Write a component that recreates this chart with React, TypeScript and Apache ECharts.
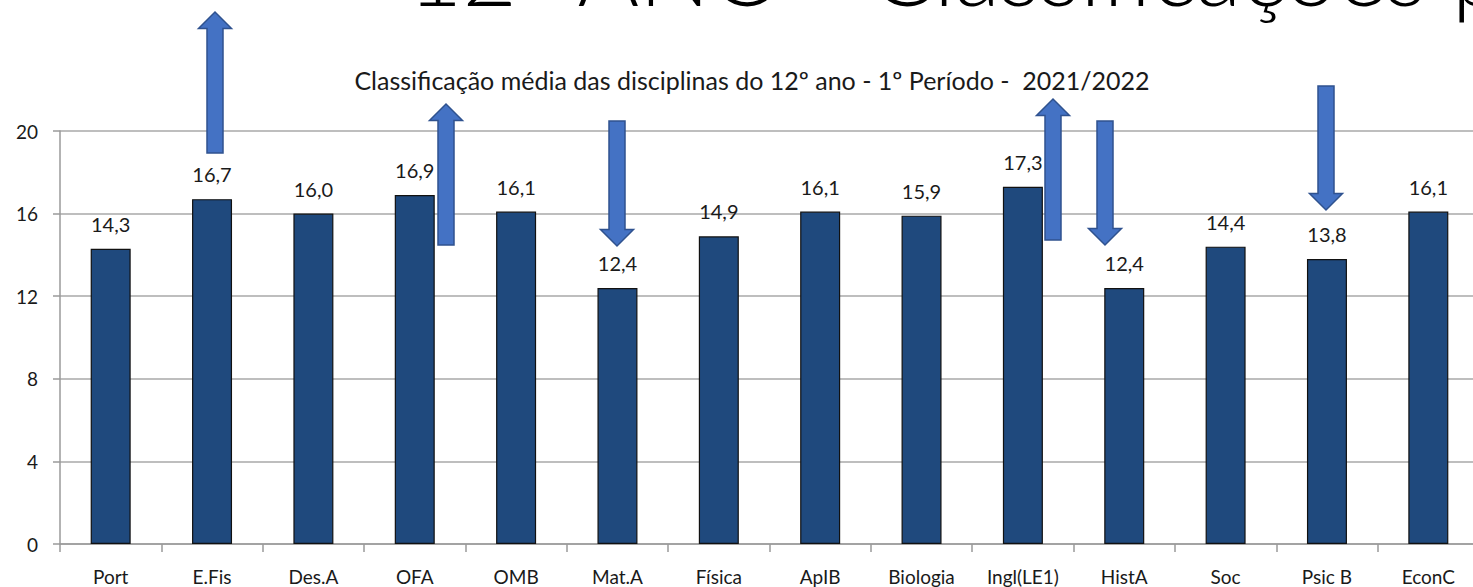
import React, { useEffect, useRef } from "react";
import * as echarts from "echarts";

const categories = ["Port", "E.Fis", "Des.A", "OFA", "OMB", "Mat.A", "Física", "ApIB", "Biologia", "Ingl(LE1)", "HistA", "Soc", "Psic B", "EconC"];
const values = [14.3, 16.7, 16.0, 16.9, 16.1, 12.4, 14.9, 16.1, 15.9, 17.3, 12.4, 14.4, 13.8, 16.1];
const yTicks = [0, 4, 8, 12, 16, 20];

const bigTitle = "12º ANO - Classificações p";
const chartTitle = "Classificação média das disciplinas do 12º ano - 1º Período -  2021/2022";

// Annotation arrows: [centerX, tailY, tipY] in pixels (decorative overlay)
const arrows: Array<[number, number, number]> = [
  [215, 153, 12],
  [446, 245, 104],
  [617, 121, 246],
  [1053, 240, 99],
  [1105, 121, 245],
  [1326, 86, 210],
];

function arrowPoints(cx: number, tail: number, tip: number): number[][] {
  const dir = tip < tail ? -1 : 1;
  const shaftHalf = 8;
  const headHalf = 16.5;
  const headLen = 16.5;
  const base = tip - dir * headLen;
  return [
    [cx - shaftHalf, tail],
    [cx - shaftHalf, base],
    [cx - headHalf, base],
    [cx, tip],
    [cx + headHalf, base],
    [cx + shaftHalf, base],
    [cx + shaftHalf, tail],
  ];
}

export default function App() {
  const ref = useRef<HTMLDivElement>(null);
  useEffect(() => {
    if (!ref.current) return;
    const chart = echarts.init(ref.current, undefined, { renderer: "svg" });
    const font = "Lato, 'Liberation Sans', sans-serif";
    chart.setOption({
      animation: false,
      backgroundColor: "#ffffff",
      grid: { left: 60, right: 1, top: 131, bottom: 43, containLabel: false },
      xAxis: {
        type: "category",
        data: categories,
        boundaryGap: true,
        axisLine: { lineStyle: { color: "#9a9a9a", width: 1.5 } },
        axisTick: { show: true, alignWithLabel: false, length: 8, lineStyle: { color: "#9a9a9a", width: 1.5 } },
        axisLabel: { color: "#1a1a1a", fontSize: 19, fontFamily: font, margin: 23, interval: 0 },
      },
      yAxis: {
        type: "value",
        min: 0,
        max: 20,
        interval: 4,
        axisLine: { show: true, lineStyle: { color: "#9a9a9a", width: 1.5 } },
        axisTick: { show: true, length: 7, lineStyle: { color: "#9a9a9a", width: 1.5 } },
        axisLabel: {
          color: "#1a1a1a", fontSize: 19, fontFamily: font, margin: 22,
          formatter: (v: number) => (yTicks.includes(v) ? String(v) : ""),
        },
        splitLine: { show: true, lineStyle: { color: "#a8a8a8", width: 1.5 } },
      },
      series: [
        {
          type: "bar",
          data: values,
          barWidth: 40,
          itemStyle: { color: "#1f497d", borderColor: "#111111", borderWidth: 1.2 },
          label: {
            show: true,
            position: "top",
            distance: 15,
            color: "#1a1a1a",
            fontSize: 20,
            fontFamily: font,
            formatter: (p: any) => Number(p.value).toFixed(1).replace(".", ","),
          },
        },
      ],
      graphic: [
        {
          type: "text",
          x: 752,
          y: 80,
          style: { text: chartTitle, fontSize: 25, fontFamily: font, fill: "#1a1a1a", textAlign: "center", textVerticalAlign: "middle" },
        },
        {
          type: "text",
          x: 408,
          y: 16,
          style: { text: bigTitle, fontSize: 94, fontWeight: 300, fontFamily: font, fill: "#000000", textVerticalAlign: "bottom" },
        },
        ...arrows.map(([cx, tail, tip]) => ({
          type: "polygon",
          shape: { points: arrowPoints(cx, tail, tip) },
          style: { fill: "#4472c4", stroke: "#2f528f", lineWidth: 1.5 },
          z: 100,
        })),
      ],
    });
    return () => chart.dispose();
  }, []);
  return <div ref={ref} style={{ position: "fixed", left: 0, top: 0, width: 1480, height: 587 }} />;
}
